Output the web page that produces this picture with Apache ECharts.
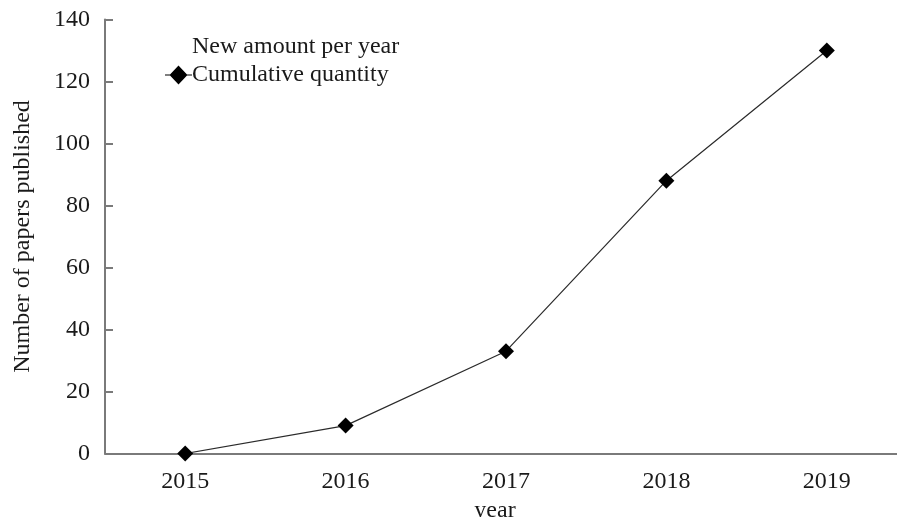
<!DOCTYPE html>
<html>
<head>
<meta charset="utf-8">
<script src="https://cdn.jsdelivr.net/npm/echarts@6/dist/echarts.min.js"></script>
<style>
html,body{margin:0;padding:0;background:#fff;}
#chart{width:897px;height:517px;}
</style>
</head>
<body>
<div id="chart"></div>
<script>
const years = ['2015', '2016', '2017', '2018', '2019'];
const newPerYear = [];
const cumulative = [0, 9, 33, 88, 130];
const yMin = 0, yMax = 140, yStep = 20;
const xName = 'year';
const yName = 'Number of papers published';
const seriesNames = ['New amount per year', 'Cumulative quantity'];

const font = 'Liberation Serif, Times New Roman, serif';
const txt = '#1a1a1a';
const axisCol = '#7a7a7a';
const legendDiamond = 'path://M0,9.4 H5 L13.5,0.5 L22,9.4 H27 V10.6 H22 L13.5,19.5 L5,10.6 H0 Z';

const chart = echarts.init(document.getElementById('chart'), null, {renderer: 'canvas'});
chart.setOption({
  animation: false,
  backgroundColor: '#fff',
  textStyle: {fontFamily: font},
  grid: {left: 105, right: -10, top: 19.5, bottom: 63.5, outerBoundsMode: 'none', containLabel: false},
  legend: {
    orient: 'vertical',
    left: 160,
    top: 30,
    itemWidth: 27,
    itemHeight: 19,
    itemGap: 4,
    data: [
      {name: seriesNames[0]},
      {name: seriesNames[1], icon: legendDiamond, itemStyle: {color: '#000'}}
    ],
    textStyle: {fontFamily: font, fontSize: 24, color: txt, padding: [0, 0, 0, -5]}
  },
  xAxis: {
    type: 'category',
    data: years,
    boundaryGap: true,
    name: xName,
    nameLocation: 'middle',
    nameGap: 34.5,
    nameTextStyle: {fontFamily: font, fontSize: 24, color: txt, padding: [0, 22, 0, 0]},
    axisLine: {lineStyle: {color: axisCol, width: 2}},
    axisTick: {inside: true, length: 10, lineStyle: {color: axisCol, width: 2}},
    axisLabel: {fontFamily: font, fontSize: 24, color: txt, margin: 16.5},
    splitLine: {show: false}
  },
  yAxis: {
    type: 'value',
    min: yMin, max: yMax, interval: yStep,
    name: yName,
    nameLocation: 'middle',
    nameGap: 70,
    nameTextStyle: {fontFamily: font, fontSize: 24, color: txt},
    axisLine: {show: true, lineStyle: {color: axisCol, width: 2}},
    axisTick: {show: true, inside: true, length: 8, lineStyle: {color: axisCol, width: 2}},
    axisLabel: {fontFamily: font, fontSize: 24, color: txt, margin: 15},
    splitLine: {show: false}
  },
  series: [
    {
      name: seriesNames[0],
      type: 'bar',
      data: newPerYear,
      itemStyle: {color: '#ffffff'}
    },
    {
      name: seriesNames[1],
      type: 'line',
      data: cumulative,
      symbol: 'diamond',
      symbolSize: 16,
      lineStyle: {color: '#2a2a2a', width: 1.2},
      itemStyle: {color: '#000000'}
    }
  ]
});
</script>
</body>
</html>
